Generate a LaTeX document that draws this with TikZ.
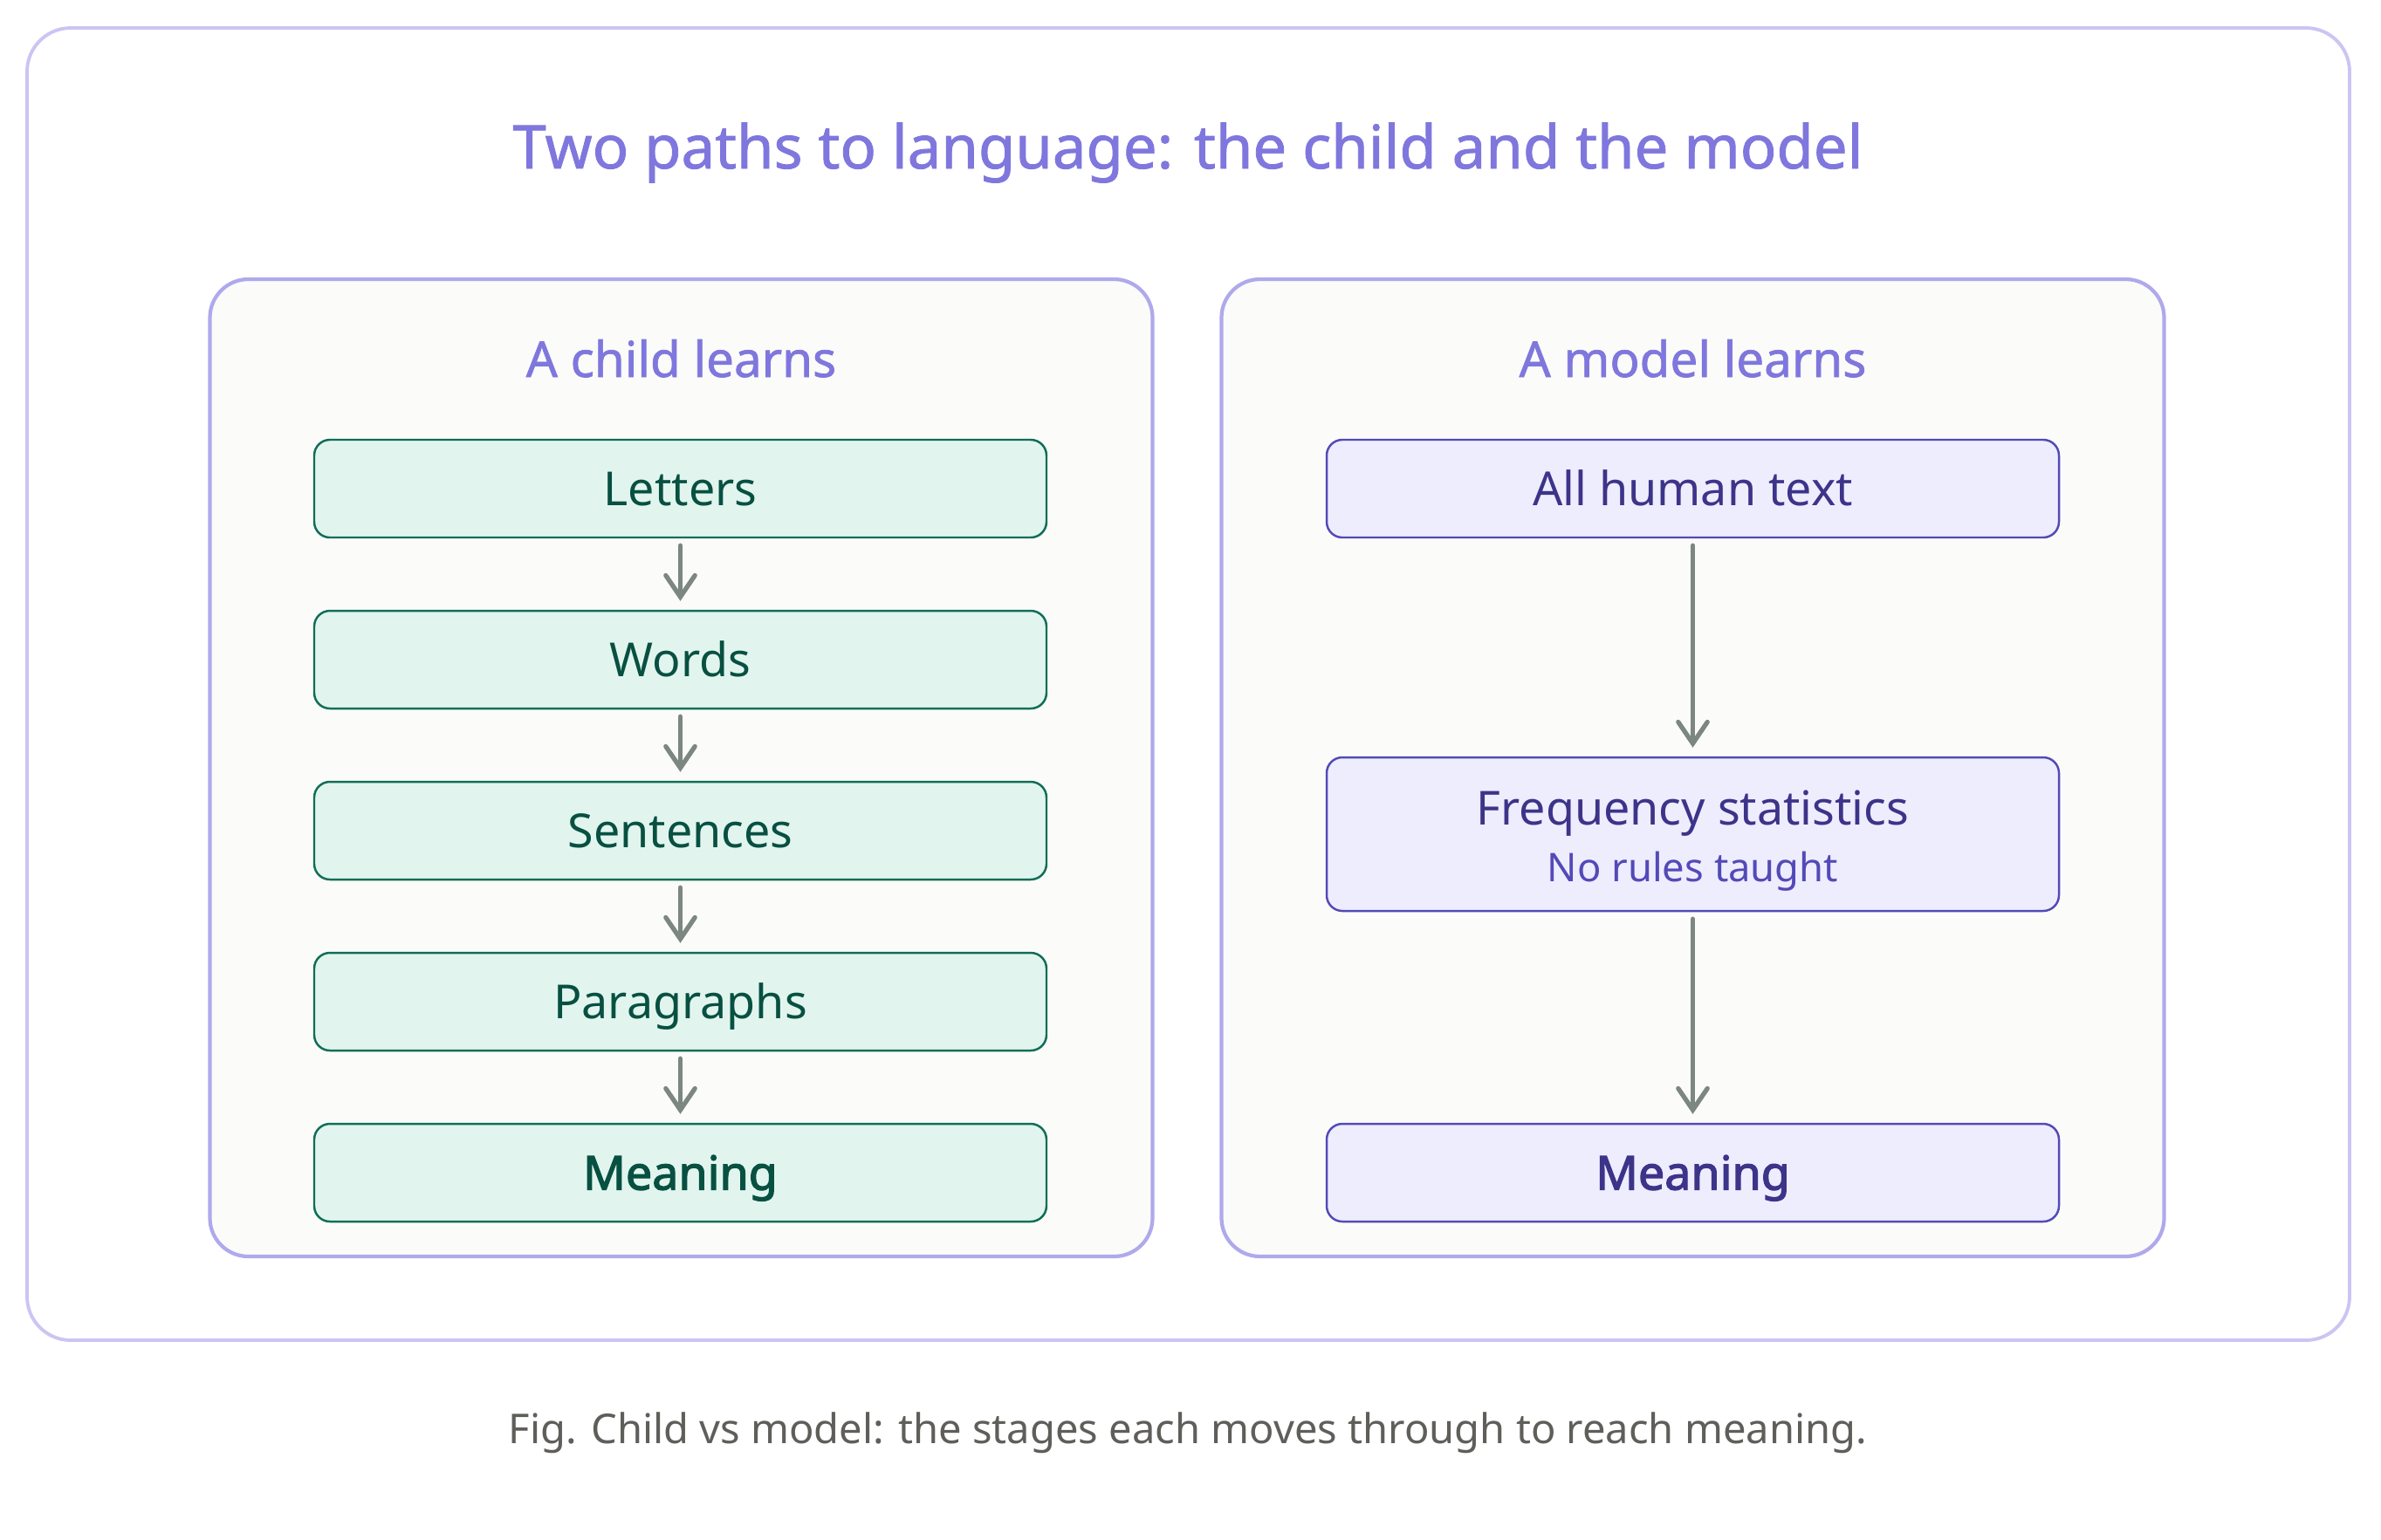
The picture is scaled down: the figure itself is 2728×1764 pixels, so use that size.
\documentclass[tikz,border=0pt]{standalone}
\usepackage{fontspec}
\setmainfont{Noto Sans}
\newfontfamily\medfont{Noto Sans}[FakeBold=1.2]
\newfontfamily\semifont{Noto Sans}[FakeBold=2.4]
\usetikzlibrary{arrows.meta}
\definecolor{frameC}{HTML}{CBC5F3}
\definecolor{panelC}{HTML}{AFA9EC}
\definecolor{panelF}{HTML}{FBFBF9}
\definecolor{titleC}{HTML}{7F77DD}
\definecolor{gFill}{HTML}{E1F5EE}
\definecolor{gBorder}{HTML}{0F6E56}
\definecolor{gText}{HTML}{085041}
\definecolor{pFill}{HTML}{EEEDFE}
\definecolor{pBorder}{HTML}{534AB7}
\definecolor{pText}{HTML}{3C3489}
\definecolor{arrC}{HTML}{7B8780}
\definecolor{capC}{HTML}{5F5E5A}
\begin{document}
\begin{tikzpicture}[x=0.1mm,y=-0.1mm,
  frame/.style={draw=frameC, line width=1.1pt, rounded corners=5mm, minimum width=266.1mm, minimum height=150.4mm, inner sep=0pt},
  panel/.style={draw=panelC, fill=panelF, line width=1.2pt, rounded corners=4.4mm, minimum width=108mm, minimum height=112mm, inner sep=0pt},
  boxbase/.style={line width=0.7pt, rounded corners=1.8mm, minimum width=83.9mm, minimum height=11.2mm, inner sep=0pt, font=\fontsize{15.3}{18}\selectfont, text height=3.9mm, text depth=0mm},
  gbox/.style={boxbase, draw=gBorder, fill=gFill, text=gText},
  pbox/.style={boxbase, draw=pBorder, fill=pFill, text=pText},
  ptitle/.style={anchor=base, text=titleC, font=\medfont\fontsize{16.1}{20}\selectfont},
  arr/.style={draw=arrC, line width=1.5pt, line cap=round, -{Straight Barb[length=7pt,width=9.5pt,line cap=round]}, shorten <=0.8mm, shorten >=1mm}
]
\useasboundingbox (0,0) rectangle (2728,1764);
\fill[white] (0,0) rectangle (2728,1764);

\node[frame] (outer) at (1361.5,784) {};
\node[anchor=base, text=titleC, font=\medfont\fontsize{19.6}{24}\selectfont] (title) at (1361,193) {Two paths to language: the child and the model};

\node[panel] (lpanel) at (780.5,880) {};
\node[panel] (rpanel) at (1939.5,880) {};

\node[ptitle] (ltitle) at (780.5,432) {A child learns};
\node[ptitle] (rtitle) at (1939.5,432) {A model learns};

\node[gbox] (letters) at (779.5,560) {Letters};
\node[gbox] (words) at (779.5,756) {Words};
\node[gbox] (sentences) at (779.5,952) {Sentences};
\node[gbox] (paragraphs) at (779.5,1148) {Paragraphs};
\node[gbox, font=\semifont\fontsize{15.3}{18}\selectfont] (lmeaning) at (779.5,1344) {Meaning};

\draw[arr] (letters) -- (words);
\draw[arr] (words) -- (sentences);
\draw[arr] (sentences) -- (paragraphs);
\draw[arr] (paragraphs) -- (lmeaning);

\node[pbox] (human) at (1939.5,560) {All human text};
\node[pbox, minimum height=17.6mm] (freq) at (1939.5,956) {};
\node[anchor=base, text=pText, font=\fontsize{15.3}{18}\selectfont] (freqT) at (1939.5,945) {Frequency statistics};
\node[anchor=base, text=pBorder, font=\fontsize{12.9}{15}\selectfont] (freqS) at (1939.5,1010) {No rules taught};
\node[pbox, font=\semifont\fontsize{15.3}{18}\selectfont] (rmeaning) at (1939.5,1344) {Meaning};

\draw[arr] (human) -- (freq);
\draw[arr] (freq) -- (rmeaning);

\node[anchor=base, text=capC, font=\fontsize{13.4}{16}\selectfont] (caption) at (1361,1654) {Fig. Child vs model: the stages each moves through to reach meaning.};
\end{tikzpicture}
\end{document}
